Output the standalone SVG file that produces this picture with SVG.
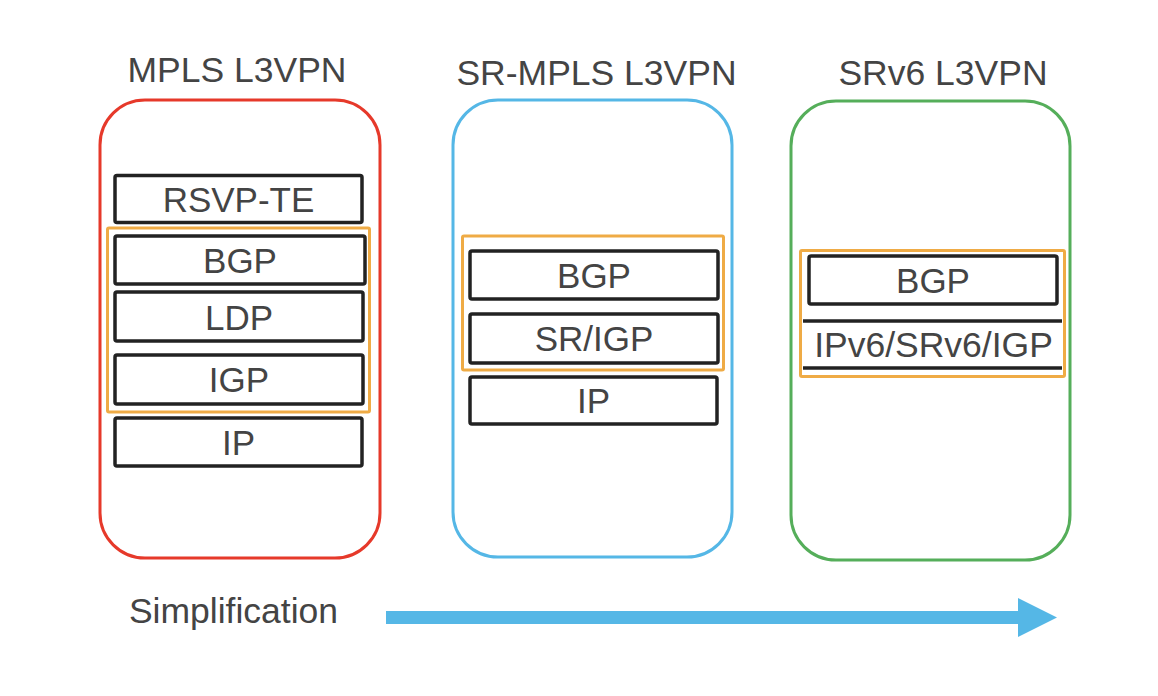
<svg xmlns="http://www.w3.org/2000/svg" width="1158" height="696" viewBox="0 0 1158 696">
<style>
.t{font-family:"Liberation Sans",Arial,sans-serif;font-size:35px;fill:#444;text-anchor:middle}
.ti{font-family:"Liberation Sans",Arial,sans-serif;font-size:35.5px;fill:#444;text-anchor:middle}
.c{fill:none;stroke-width:3}
.b{fill:none;stroke:#222;stroke-width:3.5}
.o{fill:none;stroke:#efab45;stroke-width:3}
</style>
<rect width="1158" height="696" fill="#fff"/>
<g id="mpls">
<text class="ti" x="237" y="82">MPLS L3VPN</text>
<rect class="c" x="100" y="100" width="280" height="458" rx="45" stroke="#e6392a"/>
<rect class="o" x="107.5" y="228" width="262" height="184" rx="1.5"/>
<rect class="b" x="115" y="175.5" width="247" height="47" rx="2"/>
<text class="t" x="238.5" y="211.5">RSVP-TE</text>
<rect class="b" x="115" y="236" width="250" height="48" rx="2"/>
<text class="t" x="240" y="272.5">BGP</text>
<rect class="b" x="115" y="292" width="248" height="49" rx="2"/>
<text class="t" x="239" y="329.5">LDP</text>
<rect class="b" x="115" y="355" width="248" height="49" rx="2"/>
<text class="t" x="239" y="392">IGP</text>
<rect class="b" x="115" y="418" width="247" height="48" rx="2"/>
<text class="t" x="238.5" y="454.5">IP</text>
</g>
<g id="srmpls">
<text class="ti" x="596.5" y="85">SR-MPLS L3VPN</text>
<rect class="c" x="453" y="100" width="279" height="457" rx="45" stroke="#55b7e6"/>
<rect class="o" x="462.5" y="236" width="261" height="134" rx="1.5"/>
<rect class="b" x="470" y="251" width="248" height="48" rx="2"/>
<text class="t" x="594" y="287.5">BGP</text>
<rect class="b" x="470" y="314" width="248" height="49" rx="2"/>
<text class="t" x="594" y="351">SR/IGP</text>
<rect class="b" x="470" y="377" width="247" height="47" rx="2"/>
<text class="t" x="593.5" y="413">IP</text>
</g>
<g id="srv6">
<text class="ti" x="943" y="85">SRv6 L3VPN</text>
<rect class="c" x="791" y="101" width="279" height="459" rx="45" stroke="#55ae5a"/>
<rect class="o" x="800.5" y="250.5" width="264" height="126" rx="1.5"/>
<rect class="b" x="809" y="256" width="248" height="48" rx="2"/>
<text class="t" x="933" y="292.5">BGP</text>
<line x1="803" y1="321" x2="1062" y2="321" stroke="#222" stroke-width="3.5"/>
<line x1="803" y1="368" x2="1062" y2="368" stroke="#222" stroke-width="3.5"/>
<text class="ti" x="933.5" y="357">IPv6/SRv6/IGP</text>
</g>
<g id="label">
<text class="ti" x="233.5" y="623">Simplification</text>
</g>
<g id="connectors">
<polygon points="386,611 1018,611 1018,598 1057,617.5 1018,637 1018,624 386,624" fill="#55b7e6"/>
</g>
</svg>
